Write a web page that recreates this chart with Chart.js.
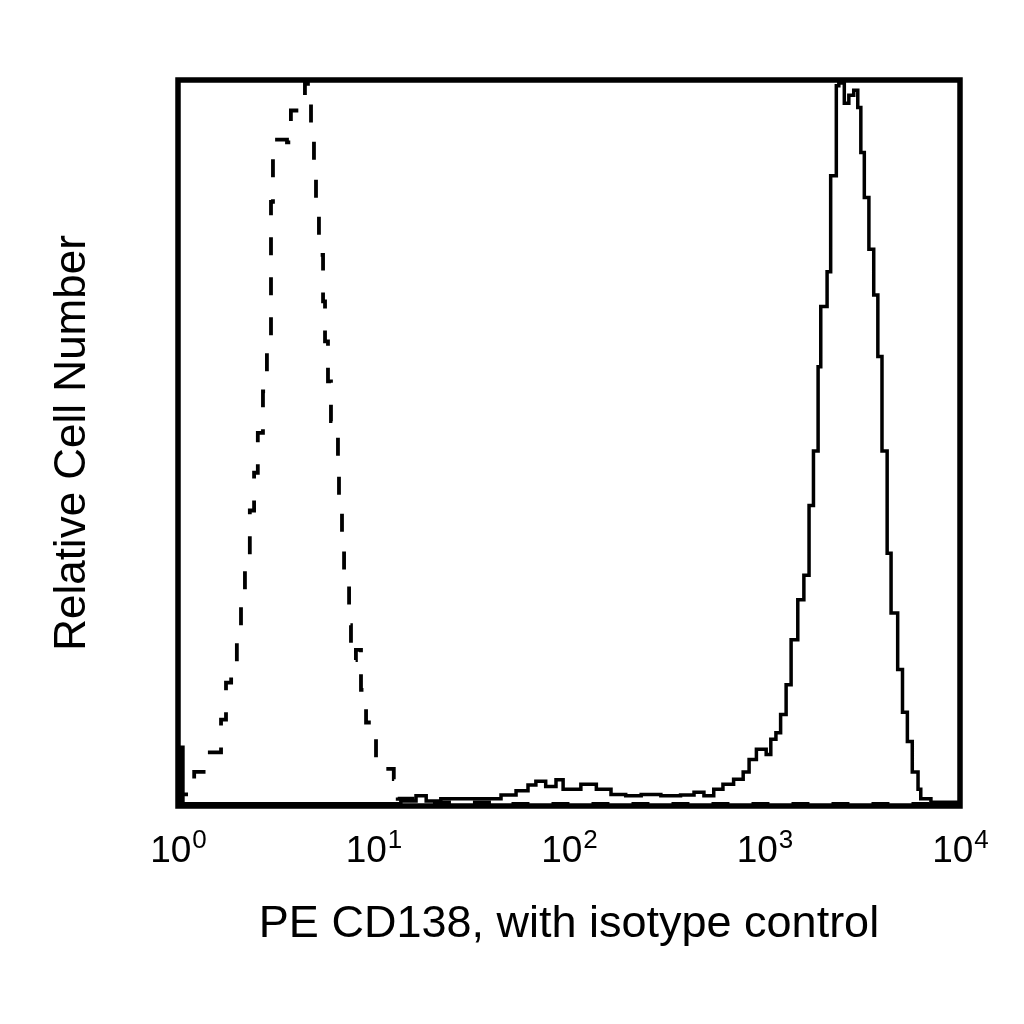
<!DOCTYPE html>
<html>
<head>
<meta charset="utf-8">
<title>PE CD138 histogram</title>
<script src="https://cdn.jsdelivr.net/npm/chart.js@4/dist/chart.umd.min.js"></script>
<style>
  html, body { margin: 0; padding: 0; background: #fff; }
  canvas { display: block; }
</style>
</head>
<body>
<canvas id="histChart" width="1024" height="1024"></canvas>
<script>
// isotype control (dashed)
const isoX = [1.0, 1.04, 1.14, 1.21, 1.42, 1.66, 1.76, 1.87, 2.00, 2.10, 2.20, 2.33, 2.45, 2.56, 2.72, 2.85, 2.99, 3.06, 3.21, 3.61,
  3.78, 4.11, 4.46, 4.62, 4.79, 4.96, 5.08, 5.26, 5.52, 5.65, 5.85, 6.06, 6.58, 6.66, 6.90, 7.07, 7.50, 7.67, 8.13, 8.63,
  9.16, 10.3, 11.0, 12.7, 13.3, 17.5, 45, 475, 5000, 10000];
const isoY = [0.5, 1.6, 3.3, 4.7, 7.4, 11.9, 17.0, 18.8, 23.8, 29.3, 34.5, 40.7, 45.9, 51.4, 57.1, 64.0, 83.2, 90.0, 91.8, 91.4,
  95.8, 95.8, 99.6, 98.2, 92.7, 87.0, 81.4, 75.9, 69.5, 64.0, 58.5, 53.0, 47.5, 42.1, 36.6, 30.4, 24.9, 20.1, 21.5, 16.0,
  11.5, 6.4, 5.1, 3.7, 1.0, 0.5, 0.3, 0.3, 0.3, 0.3];

// PE CD138 (solid)
const cdX = [1.0, 1.02, 1.06, 13.8, 16.5, 18.6, 22.1, 35.5, 44.9, 53.6, 61.7, 67.7, 76.0, 85.8, 93.3, 115, 138, 164, 195, 234,
  295, 372, 436, 490, 550, 613, 695, 778, 834, 909, 1020, 1077, 1144, 1209, 1290, 1368, 1480, 1590, 1690, 1780,
  1880, 1940, 2090, 2180, 2330, 2400, 2560, 2700, 2860, 3000, 3110, 3240, 3420, 3620, 3800, 3990, 4240, 4440, 4800, 5080,
  5380, 5700, 6100, 6300, 7100, 10000];
const cdY = [0.3, 8.1, 0.3, 0.7, 1.4, 0.7, 1.0, 1.0, 1.5, 2.1, 2.9, 3.4, 2.7, 3.6, 2.3, 3.0, 2.3, 1.6, 1.4, 1.6,
  1.4, 1.5, 1.9, 1.4, 2.3, 3.0, 3.7, 4.7, 6.4, 7.8, 7.1, 9.2, 10.1, 12.6, 16.7, 22.9, 28.4, 31.8, 41.4, 48.9,
  60.5, 68.8, 73.6, 86.8, 99.2, 99.6, 96.8, 97.9, 98.6, 96.2, 90.0, 83.8, 76.7, 70.4, 61.9, 48.9, 34.8, 26.6, 18.8, 12.9,
  8.9, 4.7, 2.3, 1.0, 0.5, 0.3];

const tickExponents = [0, 1, 2, 3, 4];
const xTitle = 'PE CD138, with isotype control';
const yTitle = 'Relative Cell Number';

const FONT = '"Liberation Sans", Arial, sans-serif';

function toPoints(xs, ys) {
  return xs.map((x, i) => ({ x: x, y: ys[i] }));
}

// box round the plot + "10^n" tick labels
const framePlugin = {
  id: 'frame',
  afterDatasetsDraw(chart) {
    const { ctx, chartArea: a } = chart;
    ctx.save();
    ctx.strokeStyle = '#000';
    ctx.lineWidth = 5.5;
    ctx.strokeRect(a.left, a.top, a.right - a.left, a.bottom - a.top);
    ctx.restore();
  },
  afterDraw(chart) {
    const { ctx } = chart;
    const xs = chart.scales.x;
    ctx.save();
    ctx.fillStyle = '#000';
    ctx.textBaseline = 'alphabetic';
    ctx.textAlign = 'left';
    tickExponents.forEach(e => {
      const px = xs.getPixelForValue(Math.pow(10, e));
      ctx.font = '37px ' + FONT;
      const wBase = ctx.measureText('10').width;
      ctx.font = '26px ' + FONT;
      const wExp = ctx.measureText(String(e)).width;
      const x0 = px - (wBase + wExp) / 2;
      ctx.font = '37px ' + FONT;
      ctx.fillText('10', x0, 862);
      ctx.font = '26px ' + FONT;
      ctx.fillText(String(e), x0 + wBase + 1, 848);
    });
    ctx.restore();
  }
};

new Chart(document.getElementById('histChart'), {
  type: 'line',
  data: {
    datasets: [
      {
        label: 'Isotype control',
        data: toPoints(isoX, isoY),
        borderColor: '#000',
        borderWidth: 3.8,
        borderDash: [18, 22],
        pointRadius: 0,
        stepped: true,
        fill: false
      },
      {
        label: 'PE CD138',
        data: toPoints(cdX, cdY),
        borderColor: '#000',
        borderWidth: 3.5,
        pointRadius: 0,
        stepped: true,
        fill: false
      }
    ]
  },
  options: {
    responsive: false,
    animation: false,
    devicePixelRatio: 1,
    layout: { padding: { top: 80, right: 64, left: 0, bottom: 0 } },
    plugins: {
      legend: { display: false },
      tooltip: { enabled: false }
    },
    scales: {
      x: {
        type: 'logarithmic',
        min: 1,
        max: 10000,
        grid: { display: false },
        border: { display: false },
        ticks: { display: false },
        title: {
          display: true,
          text: xTitle,
          color: '#000',
          font: { family: FONT, size: 45 },
          padding: { top: 0, bottom: 72 }
        },
        afterFit(scale) { scale.height = 218; }
      },
      y: {
        type: 'linear',
        min: 0,
        max: 100,
        grid: { display: false },
        border: { display: false },
        ticks: { display: false },
        title: {
          display: true,
          text: yTitle,
          color: '#000',
          font: { family: FONT, size: 44 },
          padding: { top: 46, bottom: 0 }
        },
        afterFit(scale) { scale.width = 178; }
      }
    }
  },
  plugins: [framePlugin]
});
</script>
</body>
</html>
